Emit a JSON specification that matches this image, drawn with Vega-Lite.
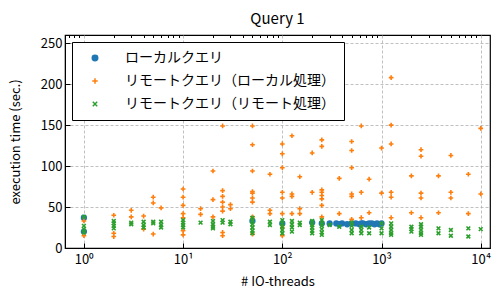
{
"$schema": "https://vega.github.io/schema/vega-lite/v6.json",
"width": 425, "height": 213,
"autosize": {"type": "none"},
"padding": {"left": 65, "top": 35, "right": 9, "bottom": 43},
"background": "white",
"title": {"text": "Query 1", "fontSize": 15, "fontWeight": "normal", "font": "Noto Sans CJK JP", "offset": 8, "color": "black"},
"config": {
  "view": {"stroke": "black", "strokeWidth": 1.2},
  "axis": {"labelFont": "Noto Sans CJK JP", "titleFont": "Noto Sans CJK JP", "labelFontSize": 13, "titleFontSize": 13, "labelColor": "black", "titleColor": "black", "titleFontWeight": "normal", "domainColor": "black", "tickColor": "black", "gridColor": "#b0b0b0", "gridDash": [3, 2], "gridWidth": 0.8},
  "legend": {"orient": "top-left", "offset": 7, "strokeColor": "black", "fillColor": "white", "padding": 9, "cornerRadius": 0, "labelFont": "Noto Sans CJK JP", "labelFontSize": 14, "labelColor": "black", "labelLimit": 400, "rowPadding": 9, "symbolSize": 30, "symbolStrokeWidth": 1.5, "symbolOffset": 7, "labelOffset": 23}
},
"data": {"values": [
{"threads":1,"time":37,"series":"ローカルクエリ"},
{"threads":1,"time":20,"series":"ローカルクエリ"},
{"threads":50,"time":33,"series":"ローカルクエリ"},
{"threads":100,"time":30,"series":"ローカルクエリ"},
{"threads":200,"time":31,"series":"ローカルクエリ"},
{"threads":250,"time":30,"series":"ローカルクエリ"},
{"threads":300,"time":30,"series":"ローカルクエリ"},
{"threads":350,"time":30,"series":"ローカルクエリ"},
{"threads":375,"time":29,"series":"ローカルクエリ"},
{"threads":400,"time":30,"series":"ローカルクエリ"},
{"threads":450,"time":29,"series":"ローカルクエリ"},
{"threads":500,"time":30,"series":"ローカルクエリ"},
{"threads":550,"time":30,"series":"ローカルクエリ"},
{"threads":600,"time":29,"series":"ローカルクエリ"},
{"threads":625,"time":30,"series":"ローカルクエリ"},
{"threads":650,"time":30,"series":"ローカルクエリ"},
{"threads":700,"time":29,"series":"ローカルクエリ"},
{"threads":750,"time":30,"series":"ローカルクエリ"},
{"threads":800,"time":30,"series":"ローカルクエリ"},
{"threads":850,"time":29,"series":"ローカルクエリ"},
{"threads":900,"time":30,"series":"ローカルクエリ"},
{"threads":950,"time":29,"series":"ローカルクエリ"},
{"threads":1000,"time":30,"series":"ローカルクエリ"},
{"threads":1,"time":15,"series":"リモートクエリ（ローカル処理）"},
{"threads":1,"time":33,"series":"リモートクエリ（ローカル処理）"},
{"threads":2,"time":40,"series":"リモートクエリ（ローカル処理）"},
{"threads":2,"time":18,"series":"リモートクエリ（ローカル処理）"},
{"threads":2,"time":14,"series":"リモートクエリ（ローカル処理）"},
{"threads":3,"time":46,"series":"リモートクエリ（ローカル処理）"},
{"threads":3,"time":38,"series":"リモートクエリ（ローカル処理）"},
{"threads":4,"time":39,"series":"リモートクエリ（ローカル処理）"},
{"threads":4,"time":23,"series":"リモートクエリ（ローカル処理）"},
{"threads":5,"time":62,"series":"リモートクエリ（ローカル処理）"},
{"threads":5,"time":55,"series":"リモートクエリ（ローカル処理）"},
{"threads":5,"time":17,"series":"リモートクエリ（ローカル処理）"},
{"threads":6,"time":49,"series":"リモートクエリ（ローカル処理）"},
{"threads":10,"time":72,"series":"リモートクエリ（ローカル処理）"},
{"threads":10,"time":62,"series":"リモートクエリ（ローカル処理）"},
{"threads":10,"time":52,"series":"リモートクエリ（ローカル処理）"},
{"threads":10,"time":42,"series":"リモートクエリ（ローカル処理）"},
{"threads":10,"time":37,"series":"リモートクエリ（ローカル処理）"},
{"threads":10,"time":21,"series":"リモートクエリ（ローカル処理）"},
{"threads":10,"time":16,"series":"リモートクエリ（ローカル処理）"},
{"threads":15,"time":48,"series":"リモートクエリ（ローカル処理）"},
{"threads":15,"time":41,"series":"リモートクエリ（ローカル処理）"},
{"threads":20,"time":94,"series":"リモートクエリ（ローカル処理）"},
{"threads":20,"time":59,"series":"リモートクエリ（ローカル処理）"},
{"threads":20,"time":38,"series":"リモートクエリ（ローカル処理）"},
{"threads":25,"time":149,"series":"リモートクエリ（ローカル処理）"},
{"threads":25,"time":70,"series":"リモートクエリ（ローカル処理）"},
{"threads":25,"time":63,"series":"リモートクエリ（ローカル処理）"},
{"threads":25,"time":56,"series":"リモートクエリ（ローカル処理）"},
{"threads":25,"time":50,"series":"リモートクエリ（ローカル処理）"},
{"threads":25,"time":45,"series":"リモートクエリ（ローカル処理）"},
{"threads":25,"time":19,"series":"リモートクエリ（ローカル処理）"},
{"threads":25,"time":15,"series":"リモートクエリ（ローカル処理）"},
{"threads":30,"time":53,"series":"リモートクエリ（ローカル処理）"},
{"threads":30,"time":48,"series":"リモートクエリ（ローカル処理）"},
{"threads":50,"time":149,"series":"リモートクエリ（ローカル処理）"},
{"threads":50,"time":126,"series":"リモートクエリ（ローカル処理）"},
{"threads":50,"time":94,"series":"リモートクエリ（ローカル処理）"},
{"threads":50,"time":69,"series":"リモートクエリ（ローカル処理）"},
{"threads":50,"time":67,"series":"リモートクエリ（ローカル処理）"},
{"threads":50,"time":61,"series":"リモートクエリ（ローカル処理）"},
{"threads":50,"time":56,"series":"リモートクエリ（ローカル処理）"},
{"threads":50,"time":38,"series":"リモートクエリ（ローカル処理）"},
{"threads":50,"time":17,"series":"リモートクエリ（ローカル処理）"},
{"threads":75,"time":90,"series":"リモートクエリ（ローカル処理）"},
{"threads":75,"time":46,"series":"リモートクエリ（ローカル処理）"},
{"threads":75,"time":42,"series":"リモートクエリ（ローカル処理）"},
{"threads":100,"time":127,"series":"リモートクエリ（ローカル処理）"},
{"threads":100,"time":115,"series":"リモートクエリ（ローカル処理）"},
{"threads":100,"time":98,"series":"リモートクエリ（ローカル処理）"},
{"threads":100,"time":68,"series":"リモートクエリ（ローカル処理）"},
{"threads":100,"time":61,"series":"リモートクエリ（ローカル処理）"},
{"threads":100,"time":42,"series":"リモートクエリ（ローカル処理）"},
{"threads":100,"time":25,"series":"リモートクエリ（ローカル処理）"},
{"threads":100,"time":15,"series":"リモートクエリ（ローカル処理）"},
{"threads":125,"time":137,"series":"リモートクエリ（ローカル処理）"},
{"threads":125,"time":66,"series":"リモートクエリ（ローカル処理）"},
{"threads":125,"time":63,"series":"リモートクエリ（ローカル処理）"},
{"threads":125,"time":42,"series":"リモートクエリ（ローカル処理）"},
{"threads":150,"time":87,"series":"リモートクエリ（ローカル処理）"},
{"threads":150,"time":48,"series":"リモートクエリ（ローカル処理）"},
{"threads":150,"time":42,"series":"リモートクエリ（ローカル処理）"},
{"threads":200,"time":116,"series":"リモートクエリ（ローカル処理）"},
{"threads":200,"time":68,"series":"リモートクエリ（ローカル処理）"},
{"threads":250,"time":132,"series":"リモートクエリ（ローカル処理）"},
{"threads":250,"time":124,"series":"リモートクエリ（ローカル処理）"},
{"threads":250,"time":71,"series":"リモートクエリ（ローカル処理）"},
{"threads":250,"time":68,"series":"リモートクエリ（ローカル処理）"},
{"threads":250,"time":64,"series":"リモートクエリ（ローカル処理）"},
{"threads":250,"time":60,"series":"リモートクエリ（ローカル処理）"},
{"threads":250,"time":52,"series":"リモートクエリ（ローカル処理）"},
{"threads":250,"time":38,"series":"リモートクエリ（ローカル処理）"},
{"threads":375,"time":85,"series":"リモートクエリ（ローカル処理）"},
{"threads":375,"time":42,"series":"リモートクエリ（ローカル処理）"},
{"threads":500,"time":130,"series":"リモートクエリ（ローカル処理）"},
{"threads":500,"time":119,"series":"リモートクエリ（ローカル処理）"},
{"threads":500,"time":98,"series":"リモートクエリ（ローカル処理）"},
{"threads":500,"time":66,"series":"リモートクエリ（ローカル処理）"},
{"threads":500,"time":63,"series":"リモートクエリ（ローカル処理）"},
{"threads":500,"time":35,"series":"リモートクエリ（ローカル処理）"},
{"threads":625,"time":149,"series":"リモートクエリ（ローカル処理）"},
{"threads":625,"time":68,"series":"リモートクエリ（ローカル処理）"},
{"threads":625,"time":37,"series":"リモートクエリ（ローカル処理）"},
{"threads":750,"time":84,"series":"リモートクエリ（ローカル処理）"},
{"threads":750,"time":43,"series":"リモートクエリ（ローカル処理）"},
{"threads":1000,"time":122,"series":"リモートクエリ（ローカル処理）"},
{"threads":1000,"time":67,"series":"リモートクエリ（ローカル処理）"},
{"threads":1250,"time":208,"series":"リモートクエリ（ローカル処理）"},
{"threads":1250,"time":150,"series":"リモートクエリ（ローカル処理）"},
{"threads":1250,"time":127,"series":"リモートクエリ（ローカル処理）"},
{"threads":1250,"time":68,"series":"リモートクエリ（ローカル処理）"},
{"threads":1250,"time":62,"series":"リモートクエリ（ローカル処理）"},
{"threads":1250,"time":37,"series":"リモートクエリ（ローカル処理）"},
{"threads":2000,"time":88,"series":"リモートクエリ（ローカル処理）"},
{"threads":2000,"time":43,"series":"リモートクエリ（ローカル処理）"},
{"threads":2500,"time":120,"series":"リモートクエリ（ローカル処理）"},
{"threads":2500,"time":112,"series":"リモートクエリ（ローカル処理）"},
{"threads":2500,"time":67,"series":"リモートクエリ（ローカル処理）"},
{"threads":2500,"time":61,"series":"リモートクエリ（ローカル処理）"},
{"threads":2500,"time":37,"series":"リモートクエリ（ローカル処理）"},
{"threads":3750,"time":88,"series":"リモートクエリ（ローカル処理）"},
{"threads":3750,"time":43,"series":"リモートクエリ（ローカル処理）"},
{"threads":5000,"time":113,"series":"リモートクエリ（ローカル処理）"},
{"threads":5000,"time":68,"series":"リモートクエリ（ローカル処理）"},
{"threads":5000,"time":61,"series":"リモートクエリ（ローカル処理）"},
{"threads":7500,"time":90,"series":"リモートクエリ（ローカル処理）"},
{"threads":7500,"time":42,"series":"リモートクエリ（ローカル処理）"},
{"threads":10000,"time":146,"series":"リモートクエリ（ローカル処理）"},
{"threads":10000,"time":66,"series":"リモートクエリ（ローカル処理）"},
{"threads":1,"time":38,"series":"リモートクエリ（リモート処理）"},
{"threads":1,"time":27,"series":"リモートクエリ（リモート処理）"},
{"threads":1,"time":23,"series":"リモートクエリ（リモート処理）"},
{"threads":1,"time":19,"series":"リモートクエリ（リモート処理）"},
{"threads":2,"time":33,"series":"リモートクエリ（リモート処理）"},
{"threads":2,"time":30,"series":"リモートクエリ（リモート処理）"},
{"threads":2,"time":27,"series":"リモートクエリ（リモート処理）"},
{"threads":2,"time":24,"series":"リモートクエリ（リモート処理）"},
{"threads":3,"time":31,"series":"リモートクエリ（リモート処理）"},
{"threads":3,"time":29,"series":"リモートクエリ（リモート処理）"},
{"threads":4,"time":32,"series":"リモートクエリ（リモート処理）"},
{"threads":4,"time":28,"series":"リモートクエリ（リモート処理）"},
{"threads":4,"time":25,"series":"リモートクエリ（リモート処理）"},
{"threads":5,"time":32,"series":"リモートクエリ（リモート処理）"},
{"threads":5,"time":30,"series":"リモートクエリ（リモート処理）"},
{"threads":6,"time":32,"series":"リモートクエリ（リモート処理）"},
{"threads":6,"time":28,"series":"リモートクエリ（リモート処理）"},
{"threads":6,"time":25,"series":"リモートクエリ（リモート処理）"},
{"threads":10,"time":34,"series":"リモートクエリ（リモート処理）"},
{"threads":10,"time":31,"series":"リモートクエリ（リモート処理）"},
{"threads":10,"time":28,"series":"リモートクエリ（リモート処理）"},
{"threads":10,"time":25,"series":"リモートクエリ（リモート処理）"},
{"threads":15,"time":31,"series":"リモートクエリ（リモート処理）"},
{"threads":20,"time":33,"series":"リモートクエリ（リモート処理）"},
{"threads":20,"time":29,"series":"リモートクエリ（リモート処理）"},
{"threads":20,"time":26,"series":"リモートクエリ（リモート処理）"},
{"threads":20,"time":24,"series":"リモートクエリ（リモート処理）"},
{"threads":25,"time":34,"series":"リモートクエリ（リモート処理）"},
{"threads":25,"time":31,"series":"リモートクエリ（リモート処理）"},
{"threads":30,"time":32,"series":"リモートクエリ（リモート処理）"},
{"threads":30,"time":29,"series":"リモートクエリ（リモート処理）"},
{"threads":50,"time":37,"series":"リモートクエリ（リモート処理）"},
{"threads":50,"time":33,"series":"リモートクエリ（リモート処理）"},
{"threads":50,"time":29,"series":"リモートクエリ（リモート処理）"},
{"threads":50,"time":25,"series":"リモートクエリ（リモート処理）"},
{"threads":50,"time":21,"series":"リモートクエリ（リモート処理）"},
{"threads":50,"time":18,"series":"リモートクエリ（リモート処理）"},
{"threads":75,"time":32,"series":"リモートクエリ（リモート処理）"},
{"threads":75,"time":28,"series":"リモートクエリ（リモート処理）"},
{"threads":100,"time":34,"series":"リモートクエリ（リモート処理）"},
{"threads":100,"time":30,"series":"リモートクエリ（リモート処理）"},
{"threads":100,"time":26,"series":"リモートクエリ（リモート処理）"},
{"threads":100,"time":22,"series":"リモートクエリ（リモート処理）"},
{"threads":100,"time":18,"series":"リモートクエリ（リモート処理）"},
{"threads":125,"time":33,"series":"リモートクエリ（リモート処理）"},
{"threads":125,"time":29,"series":"リモートクエリ（リモート処理）"},
{"threads":125,"time":25,"series":"リモートクエリ（リモート処理）"},
{"threads":125,"time":20,"series":"リモートクエリ（リモート処理）"},
{"threads":150,"time":31,"series":"リモートクエリ（リモート処理）"},
{"threads":150,"time":28,"series":"リモートクエリ（リモート処理）"},
{"threads":200,"time":33,"series":"リモートクエリ（リモート処理）"},
{"threads":200,"time":28,"series":"リモートクエリ（リモート処理）"},
{"threads":200,"time":25,"series":"リモートクエリ（リモート処理）"},
{"threads":200,"time":21,"series":"リモートクエリ（リモート処理）"},
{"threads":200,"time":18,"series":"リモートクエリ（リモート処理）"},
{"threads":250,"time":34,"series":"リモートクエリ（リモート処理）"},
{"threads":250,"time":30,"series":"リモートクエリ（リモート処理）"},
{"threads":250,"time":27,"series":"リモートクエリ（リモート処理）"},
{"threads":250,"time":23,"series":"リモートクエリ（リモート処理）"},
{"threads":250,"time":19,"series":"リモートクエリ（リモート処理）"},
{"threads":250,"time":16,"series":"リモートクエリ（リモート処理）"},
{"threads":300,"time":28,"series":"リモートクエリ（リモート処理）"},
{"threads":375,"time":26,"series":"リモートクエリ（リモート処理）"},
{"threads":500,"time":31,"series":"リモートクエリ（リモート処理）"},
{"threads":500,"time":27,"series":"リモートクエリ（リモート処理）"},
{"threads":500,"time":22,"series":"リモートクエリ（リモート処理）"},
{"threads":500,"time":18,"series":"リモートクエリ（リモート処理）"},
{"threads":625,"time":26,"series":"リモートクエリ（リモート処理）"},
{"threads":625,"time":22,"series":"リモートクエリ（リモート処理）"},
{"threads":625,"time":18,"series":"リモートクエリ（リモート処理）"},
{"threads":750,"time":25,"series":"リモートクエリ（リモート処理）"},
{"threads":750,"time":18,"series":"リモートクエリ（リモート処理）"},
{"threads":1000,"time":30,"series":"リモートクエリ（リモート処理）"},
{"threads":1000,"time":24,"series":"リモートクエリ（リモート処理）"},
{"threads":1000,"time":18,"series":"リモートクエリ（リモート処理）"},
{"threads":1250,"time":30,"series":"リモートクエリ（リモート処理）"},
{"threads":1250,"time":26,"series":"リモートクエリ（リモート処理）"},
{"threads":1250,"time":22,"series":"リモートクエリ（リモート処理）"},
{"threads":1250,"time":18,"series":"リモートクエリ（リモート処理）"},
{"threads":1250,"time":16,"series":"リモートクエリ（リモート処理）"},
{"threads":2000,"time":26,"series":"リモートクエリ（リモート処理）"},
{"threads":2000,"time":23,"series":"リモートクエリ（リモート処理）"},
{"threads":2000,"time":20,"series":"リモートクエリ（リモート処理）"},
{"threads":2500,"time":29,"series":"リモートクエリ（リモート処理）"},
{"threads":2500,"time":26,"series":"リモートクエリ（リモート処理）"},
{"threads":2500,"time":22,"series":"リモートクエリ（リモート処理）"},
{"threads":2500,"time":18,"series":"リモートクエリ（リモート処理）"},
{"threads":2500,"time":16,"series":"リモートクエリ（リモート処理）"},
{"threads":3750,"time":24,"series":"リモートクエリ（リモート処理）"},
{"threads":3750,"time":18,"series":"リモートクエリ（リモート処理）"},
{"threads":5000,"time":22,"series":"リモートクエリ（リモート処理）"},
{"threads":5000,"time":15,"series":"リモートクエリ（リモート処理）"},
{"threads":7500,"time":24,"series":"リモートクエリ（リモート処理）"},
{"threads":7500,"time":14,"series":"リモートクエリ（リモート処理）"},
{"threads":10000,"time":23,"series":"リモートクエリ（リモート処理）"}
]},
"layer": [
  {
    "mark": {"type": "point", "filled": false, "size": 22, "strokeWidth": 1.6, "opacity": 1},
    "encoding": {
      "x": {"field": "threads", "type": "quantitative", "scale": {"type": "log", "domain": [0.645, 12400], "nice": false},
            "axis": {"title": "# IO-threads", "values": [1, 10, 100, 1000, 10000], "labelExpr": "'10' + ['⁰','¹','²','³','⁴'][round(log(datum.value)/LN10)]", "tickSize": -5, "labelPadding": 10, "titlePadding": 9, "grid": true}},
      "y": {"field": "time", "type": "quantitative", "scale": {"domain": [0, 260], "nice": false},
            "axis": {"title": "execution time (sec.)", "values": [0, 50, 100, 150, 200, 250], "tickSize": -5, "labelPadding": 8, "titlePadding": 18, "grid": true}},
      "color": {"field": "series", "type": "nominal", "sort": null,
                "scale": {"domain": ["ローカルクエリ", "リモートクエリ（ローカル処理）", "リモートクエリ（リモート処理）"], "range": ["#1f77b4", "#ff7f0e", "#2ca02c"]},
                "legend": {"title": null}},
      "fill": {"field": "series", "type": "nominal", "sort": null,
               "scale": {"domain": ["ローカルクエリ", "リモートクエリ（ローカル処理）", "リモートクエリ（リモート処理）"], "range": ["#1f77b4", "transparent", "transparent"]},
               "legend": {"title": null}},
      "shape": {"field": "series", "type": "nominal", "sort": null,
                "scale": {"domain": ["ローカルクエリ", "リモートクエリ（ローカル処理）", "リモートクエリ（リモート処理）"], "range": ["circle", "M-1,0L1,0M0,-1L0,1", "M-0.8,-0.8L0.8,0.8M-0.8,0.8L0.8,-0.8"]},
                "legend": {"title": null}}
    }
  },
  {
    "mark": {"type": "point", "opacity": 0},
    "encoding": {
      "x": {"field": "threads", "type": "quantitative",
            "axis": {"title": null, "values": [0.7, 0.8, 0.9, 2, 3, 4, 5, 6, 7, 8, 9, 20, 30, 40, 50, 60, 70, 80, 90, 200, 300, 400, 500, 600, 700, 800, 900, 2000, 3000, 4000, 5000, 6000, 7000, 8000, 9000], "labels": false, "domain": false, "grid": false, "tickSize": -2.5}}
    }
  }
],
"resolve": {"axis": {"x": "independent"}}
}
